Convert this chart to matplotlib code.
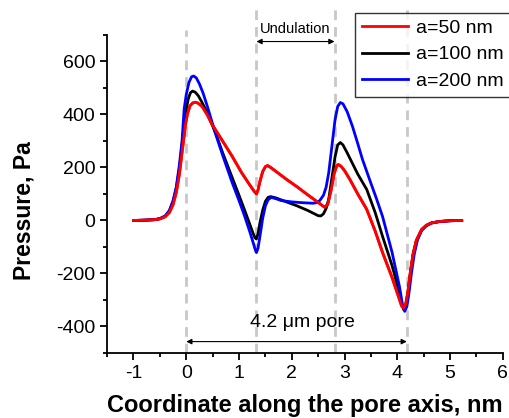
import matplotlib
matplotlib.use("Agg")
import matplotlib.pyplot as plt
from matplotlib.ticker import MultipleLocator

plt.rcParams['font.family'] = ['Liberation Sans', 'DejaVu Sans']
plt.rcParams['axes.unicode_minus'] = False

# a = 50 nm
x_red = [-1.0, -0.8, -0.6, -0.5, -0.4, -0.32, -0.25, -0.19, -0.13, -0.08, -0.04, -0.02,
         0.02, 0.07, 0.12, 0.17, 0.22, 0.3, 0.4, 0.49, 0.7, 0.87, 1.05, 1.2, 1.28,
         1.33, 1.36, 1.4, 1.45, 1.5, 1.54, 1.6, 1.7, 1.9, 2.1, 2.3, 2.5, 2.62, 2.68,
         2.74, 2.8, 2.85, 2.88, 2.93, 3.0, 3.1, 3.25, 3.42, 3.58, 3.72, 3.9, 4.04,
         4.08, 4.12, 4.16, 4.2, 4.25, 4.3, 4.36, 4.46, 4.55, 4.65, 4.8, 5.0, 5.22]
y_red = [0, 1, 3, 6, 14, 30, 60, 105, 175, 257, 320, 355,
         400, 432, 443, 446, 443, 430, 398, 362, 296, 242, 180, 135, 112,
         100, 115, 150, 185, 203, 207, 200, 185, 155, 127, 97, 68, 50, 60,
         110, 175, 205, 211, 205, 188, 155, 100, 42, -40, -121, -215, -298,
         -322, -330, -315, -270, -190, -125, -75, -34, -18, -9, -4, -1, 0]

# a = 100 nm
x_blk = [-1.0, -0.8, -0.6, -0.5, -0.4, -0.32, -0.25, -0.19, -0.13, -0.08, -0.04, 0.0,
         0.04, 0.08, 0.12, 0.17, 0.23, 0.3, 0.4, 0.49, 0.6, 0.7, 0.87, 1.0, 1.1,
         1.2, 1.26, 1.3, 1.33, 1.36, 1.4, 1.45, 1.5, 1.55, 1.6, 1.7, 1.9, 2.1, 2.3,
         2.4, 2.5, 2.55, 2.6, 2.65, 2.7, 2.76, 2.82, 2.87, 2.92, 2.97, 3.05, 3.15,
         3.25, 3.42, 3.58, 3.72, 3.9, 4.04, 4.08, 4.12, 4.16, 4.2, 4.25, 4.3, 4.36,
         4.46, 4.55, 4.65, 4.8, 5.0, 5.22]
y_blk = [0, 1, 3, 7, 16, 35, 70, 120, 195, 285, 360, 420,
         460, 482, 488, 484, 470, 445, 405, 362, 305, 250, 162, 95, 42,
         -12, -45, -65, -70, -50, -5, 40, 72, 87, 90, 85, 70, 55, 38,
         28, 18, 17, 25, 45, 80, 160, 240, 285, 294, 285, 255, 215,
         175, 117, 30, -60, -170, -272, -315, -336, -320, -275, -195, -128, -78,
         -36, -19, -9, -4, -1, 0]

# a = 200 nm
x_blu = [-1.0, -0.8, -0.6, -0.5, -0.4, -0.32, -0.25, -0.19, -0.13, -0.08, -0.04, 0.0,
         0.05, 0.1, 0.14, 0.19, 0.25, 0.32, 0.4, 0.49, 0.6, 0.7, 0.87, 1.0, 1.1,
         1.2, 1.27, 1.31, 1.33, 1.36, 1.4, 1.45, 1.5, 1.55, 1.61, 1.7, 1.8, 2.0,
         2.2, 2.4, 2.47, 2.53, 2.6, 2.65, 2.7, 2.76, 2.82, 2.87, 2.92, 2.97, 3.05,
         3.15, 3.25, 3.34, 3.5, 3.6, 3.72, 3.9, 4.04, 4.1, 4.14, 4.18, 4.22, 4.27,
         4.32, 4.38, 4.46, 4.55, 4.65, 4.8, 5.0, 5.22]
y_blu = [0, 1, 3, 7, 17, 38, 75, 125, 210, 300, 420, 475,
         520, 542, 545, 538, 515, 480, 430, 370, 300, 240, 143, 75, 20,
         -40, -85, -112, -121, -105, -55, 10, 55, 78, 87, 82, 75, 70,
         67, 65, 67, 75, 95, 125, 180, 280, 380, 430, 445, 440, 410,
         355, 290, 230, 140, 85, 15, -120, -249, -320, -343, -325, -275, -195,
         -128, -75, -38, -20, -10, -4, -1, 0]

series_labels = ['a=50 nm', 'a=100 nm', 'a=200 nm']
series_colors = ['#ff0000', '#000000', '#0000ff']

boundaries = [0.0, 1.33, 2.81, 4.18]
boundary_tops = [717, 800, 800, 800]

fig = plt.figure(figsize=(5.1, 4.18), dpi=100)
ax = fig.add_axes([0.21, 0.1555, 0.776, 0.761])

for xb, top in zip(boundaries, boundary_tops):
    ax.plot([xb, xb], [-500, top], color='#c8c8c8', lw=2, ls=(0, (3.5, 2.5)),
            clip_on=False, zorder=1)

for xs, ys, lab, col in zip([x_red, x_blk, x_blu], [y_red, y_blk, y_blu],
                            series_labels, series_colors):
    ax.plot(xs, ys, color=col, lw=2, label=lab, zorder=3)

# red sits on top of the others in the original
ax.plot(x_red, y_red, color='#ff0000', lw=2, zorder=4)

# annotations
ax.annotate('', xy=(boundaries[0], -457), xytext=(boundaries[3], -457),
            arrowprops=dict(arrowstyle='<|-|>', color='black', lw=0.8,
                            shrinkA=0, shrinkB=0, mutation_scale=8))
ax.text(2.2, -385, '4.2 \u03bcm pore', fontsize=14, ha='center', va='center')

ax.annotate('', xy=(boundaries[1], 675), xytext=(boundaries[2], 675),
            arrowprops=dict(arrowstyle='<|-|>', color='black', lw=0.8,
                            shrinkA=0, shrinkB=0, mutation_scale=8),
            annotation_clip=False)
ax.text(2.07, 722, 'Undulation', fontsize=10.5, ha='center', va='center')

ax.set_xlim(-1.5, 6)
ax.set_ylim(-500, 700)
ax.xaxis.set_major_locator(MultipleLocator(1))
ax.xaxis.set_minor_locator(MultipleLocator(0.5))
ax.yaxis.set_minor_locator(MultipleLocator(100))
ax.set_yticks([-400, -200, 0, 200, 400, 600])

for s in ['top', 'right']:
    ax.spines[s].set_visible(False)
for s in ['left', 'bottom']:
    ax.spines[s].set_linewidth(1.3)
ax.tick_params(which='major', direction='out', length=5, width=1.3, labelsize=14)
ax.tick_params(which='minor', direction='out', length=3, width=1.3)

ax.set_xlabel('Coordinate along the pore axis, nm', fontsize=17, fontweight='bold',
              labelpad=9)
ax.set_ylabel('Pressure, Pa', fontsize=16.5, fontweight='bold')
ax.yaxis.set_label_coords(-0.18, 0.447)

leg = ax.legend(loc='upper left', bbox_to_anchor=(0.626, 1.07), fontsize=14,
                frameon=True, fancybox=False, edgecolor='black', handlelength=2.4,
                borderpad=0.35, labelspacing=0.45, handletextpad=0.4,
                borderaxespad=0)
leg.get_frame().set_linewidth(1.0)
leg.set_zorder(10)

fig.savefig('out.png', dpi=100)
